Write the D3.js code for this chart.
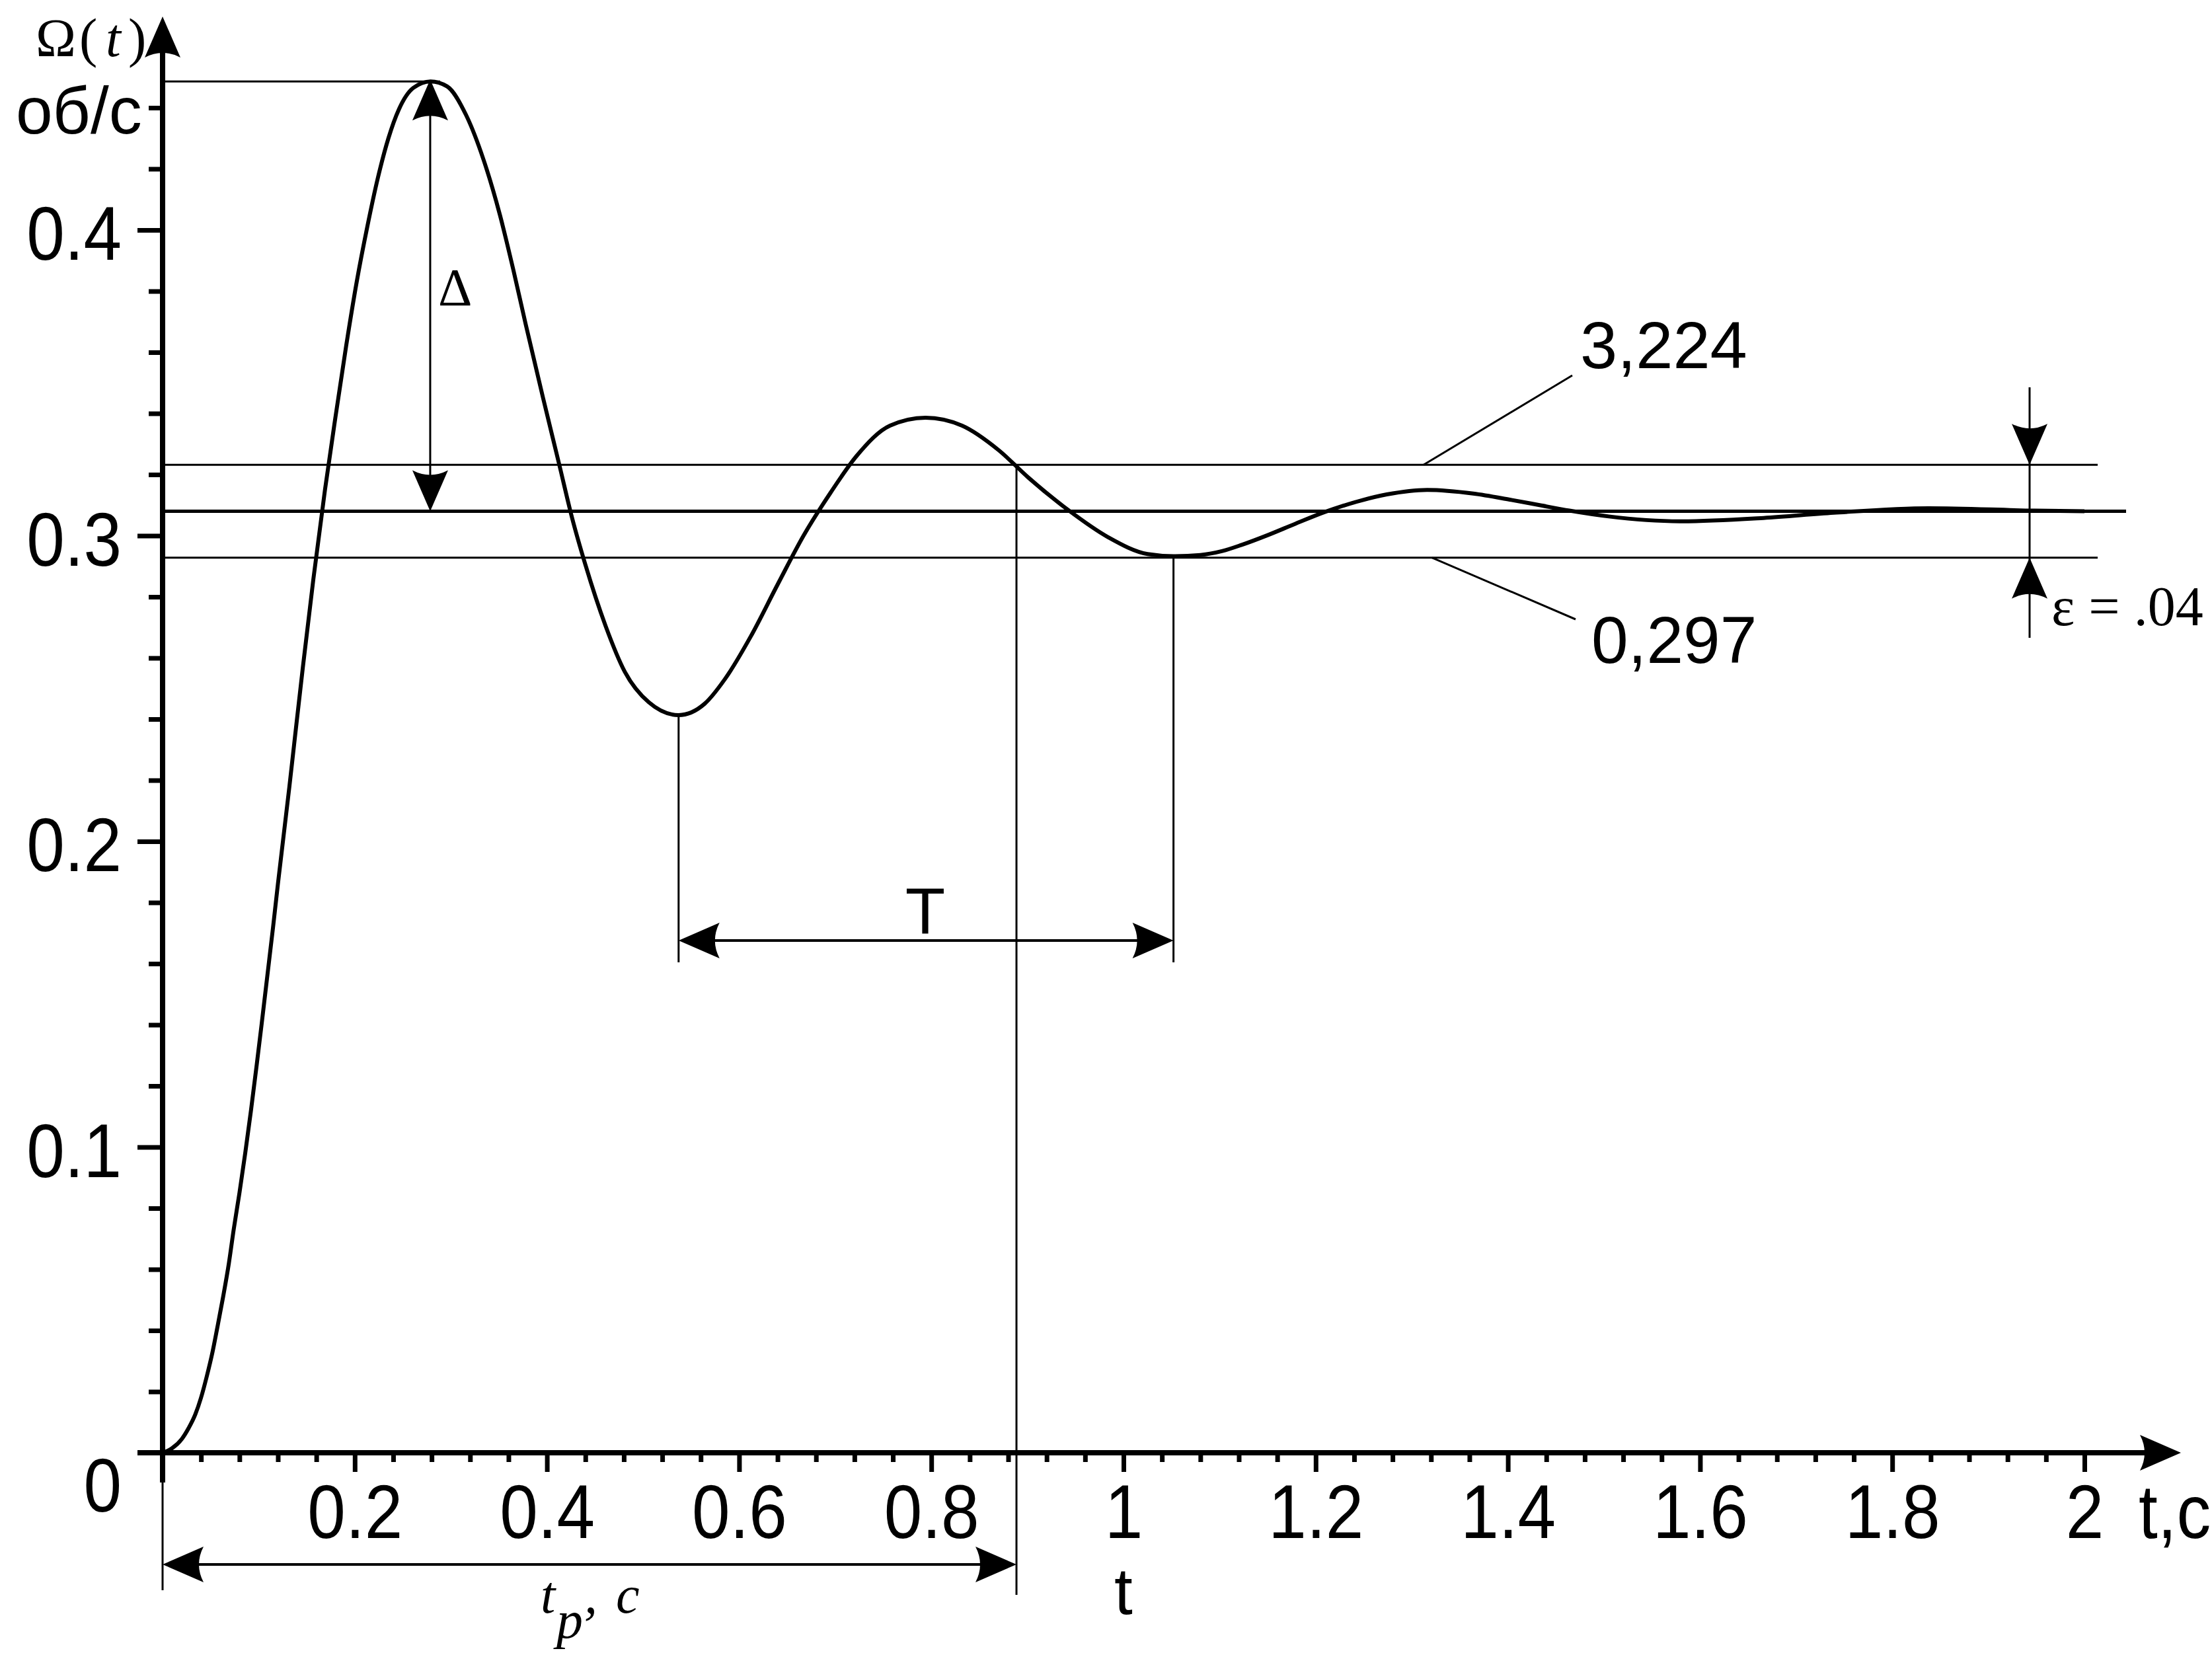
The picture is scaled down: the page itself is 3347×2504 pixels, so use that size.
<!DOCTYPE html>
<html><head><meta charset="utf-8">
<script src="https://cdn.jsdelivr.net/npm/d3@7"></script>
<style>body{margin:0;background:#fff}</style>
</head><body>
<svg id="c" width="3347" height="2504" xmlns="http://www.w3.org/2000/svg"></svg>
<script>
// ---- data ----
const timeS = [0, 0.010, 0.020, 0.027, 0.034, 0.040, 0.046, 0.052, 0.057, 0.063, 0.069, 0.074, 0.080, 0.086, 0.092, 0.098, 0.103, 0.109, 0.115, 0.120, 0.126, 0.132, 0.137, 0.146, 0.157, 0.169, 0.180, 0.191, 0.202, 0.213, 0.224, 0.235, 0.246, 0.261, 0.279, 0.296, 0.316, 0.334, 0.351, 0.365, 0.378, 0.396, 0.413, 0.426, 0.440, 0.461, 0.481, 0.506, 0.537, 0.564, 0.585, 0.612, 0.640, 0.667, 0.695, 0.722, 0.757, 0.794, 0.832, 0.870, 0.901, 0.942, 0.984, 1.025, 1.052, 1.080, 1.103, 1.123, 1.151, 1.178, 1.209, 1.247, 1.274, 1.316, 1.364, 1.402, 1.433, 1.464, 1.505, 1.581, 1.666, 1.739, 1.838, 1.948, 2.0];
const omega = [0, 0.0015, 0.0045, 0.008, 0.0125, 0.018, 0.025, 0.033, 0.041, 0.051, 0.062, 0.073, 0.085, 0.098, 0.112, 0.127, 0.140, 0.156, 0.172, 0.186, 0.202, 0.218, 0.232, 0.257, 0.286, 0.315, 0.339, 0.362, 0.383, 0.401, 0.417, 0.430, 0.4395, 0.4465, 0.4486, 0.447, 0.4375, 0.423, 0.405, 0.387, 0.369, 0.345, 0.323, 0.306, 0.2905, 0.2705, 0.2555, 0.2455, 0.2413, 0.245, 0.253, 0.267, 0.284, 0.300, 0.314, 0.326, 0.336, 0.3386, 0.336, 0.328, 0.319, 0.3085, 0.2995, 0.294, 0.2933, 0.2937, 0.2950, 0.2970, 0.3003, 0.3038, 0.3077, 0.3115, 0.3135, 0.3150, 0.3138, 0.3118, 0.3100, 0.3082, 0.3063, 0.3047, 0.3058, 0.3075, 0.3090, 0.3082, 0.3080];

const xMajorTicks = [0.2, 0.4, 0.6, 0.8, 1, 1.2, 1.4, 1.6, 1.8, 2];
const xTickLabels = ["0.2", "0.4", "0.6", "0.8", "1", "1.2", "1.4", "1.6", "1.8", "2"];
const yMajorTicks = [0.1, 0.2, 0.3, 0.4];
const yTickLabels = ["0.1", "0.2", "0.3", "0.4"];

const steadyValue = 0.308;
const bandValues = [0.3232, 0.2928];        // upper, lower
const bandLabels = ["3,224", "0,297"];
const peakPoint = [0.2785, 0.4486];
const trough1 = [0.537, 0.2413];
const trough2 = [1.052, 0.2933];
const settleTime = 0.8886;
const epsLabel = "ε = .04";

// ---- scales ----
const x = d3.scaleLinear().domain([0, 2]).range([246, 3154]);
const y = d3.scaleLinear().domain([0, 0.4]).range([2198, 348]);

const svg = d3.select("#c");
const SANS = "'Liberation Sans', Arial, Helvetica, sans-serif";
const SERIF = "'Liberation Serif', 'Times New Roman', Times, serif";

const AL = 62, AW = 27;
function arrowHead(px, py, ang) {
  svg.append("path")
    .attr("d", `M0,0 L${-AL},${-AW} Q${-AL + 14},0 ${-AL},${AW} Z`)
    .attr("transform", `translate(${px},${py}) rotate(${ang})`)
    .attr("fill", "#000");
}
function line(x1, y1, x2, y2, w) {
  svg.append("line").attr("x1", x1).attr("y1", y1).attr("x2", x2).attr("y2", y2)
    .attr("stroke", "#000").attr("stroke-width", w);
}

// ---- minor ticks ----
const xMinor = d3.range(1, 51).map(i => i * 0.04).filter(v => Math.abs(v / 0.2 - Math.round(v / 0.2)) > 1e-6);
const yMinor = d3.range(1, 23).map(i => i * 0.02).filter(v => Math.abs(v / 0.1 - Math.round(v / 0.1)) > 1e-6);

// x axis ticks
const gxMinor = svg.append("g").attr("transform", `translate(0,${y(0)})`)
  .call(d3.axisBottom(x).tickValues(xMinor).tickSize(14).tickFormat(""));
const gxMajor = svg.append("g").attr("transform", `translate(0,${y(0)})`)
  .call(d3.axisBottom(x).tickValues(xMajorTicks).tickSize(29)
    .tickFormat((d, i) => xTickLabels[i]));
[gxMinor, gxMajor].forEach(g => {
  g.select(".domain").remove();
  g.selectAll(".tick line").attr("stroke", "#000").attr("stroke-width", 7);
});
gxMajor.selectAll(".tick text")
  .attr("y", 129).attr("dy", 0)
  .attr("transform", "scale(0.9,1)")
  .style("font-family", SANS).style("font-size", "115px").attr("fill", "#000");

// y axis ticks
const gyMinor = svg.append("g").attr("transform", `translate(${x(0)},0)`)
  .call(d3.axisLeft(y).tickValues(yMinor).tickSize(21).tickFormat(""));
const gyMajor = svg.append("g").attr("transform", `translate(${x(0)},0)`)
  .call(d3.axisLeft(y).tickValues(yMajorTicks).tickSize(38)
    .tickFormat((d, i) => yTickLabels[i]));
[gyMinor, gyMajor].forEach(g => {
  g.select(".domain").remove();
  g.selectAll(".tick line").attr("stroke", "#000").attr("stroke-width", 7);
});
gyMajor.selectAll(".tick text")
  .attr("x", -62 / 0.9).attr("dy", "0.39em")
  .attr("transform", "scale(0.9,1)")
  .style("font-family", SANS).style("font-size", "115px").attr("fill", "#000");

// zero label
svg.append("text").attr("x", 184).attr("y", 2287).attr("text-anchor", "end")
  .attr("transform", "translate(18.4,0) scale(0.9,1)")
  .style("font-family", SANS).style("font-size", "115px").text("0");

// axis lines with arrows
line(208, y(0), 3245, y(0), 8);
arrowHead(3300, y(0), 0);
line(x(0), 2243, x(0), 80, 8);
arrowHead(x(0), 25, -90);
line(x(0), 2243, x(0), 2406, 3);

// horizontal reference lines
line(x(0), y(peakPoint[1]), x(peakPoint[0]) + 15, y(peakPoint[1]), 3);
line(x(0), y(bandValues[0]), 3174, y(bandValues[0]), 3);
line(x(0), y(bandValues[1]), 3174, y(bandValues[1]), 3);
line(x(0), y(steadyValue), 3217, y(steadyValue), 5);

// curve
const pts = timeS.map((t, i) => [t, omega[i]]);
svg.append("path").datum(pts)
  .attr("d", d3.line().x(d => x(d[0])).y(d => y(d[1])).curve(d3.curveMonotoneX))
  .attr("fill", "none").attr("stroke", "#000").attr("stroke-width", 6)
  .attr("stroke-linejoin", "round");

// Δ dimension
const xd = x(peakPoint[0]);
line(xd, y(peakPoint[1]) + 20, xd, y(steadyValue) - 20, 3);
arrowHead(xd, y(peakPoint[1]) - 3, -90);
arrowHead(xd, y(steadyValue), 90);
svg.append("text").attr("x", 663).attr("y", 462)
  .style("font-family", SERIF).style("font-size", "80px").text("Δ");

// T dimension
const yT = 1423, yTend = 1456;
line(x(trough1[0]), y(trough1[1]), x(trough1[0]), yTend, 3);
line(x(trough2[0]), y(trough2[1]), x(trough2[0]), yTend, 3);
line(x(trough1[0]) + 20, yT, x(trough2[0]) - 20, yT, 4);
arrowHead(x(trough1[0]), yT, 180);
arrowHead(x(trough2[0]), yT, 0);
svg.append("text").attr("x", 1400).attr("y", 1412).attr("text-anchor", "middle")
  .style("font-family", SANS).style("font-size", "99px").text("T");

// settling time
line(x(settleTime), y(bandValues[0]), x(settleTime), 2413, 3);
const yTp = 2367;
line(x(0) + 20, yTp, x(settleTime) - 20, yTp, 4);
arrowHead(x(0), yTp, 180);
arrowHead(x(settleTime), yTp, 0);
const tp = svg.append("text").attr("x", 818).attr("y", 2440)
  .style("font-family", SERIF).style("font-size", "80px").style("font-style", "italic");
tp.append("tspan").text("t");
tp.append("tspan").attr("x", 842).attr("dy", 38).text("p");
tp.append("tspan").attr("x", 884).attr("dy", -38).text(",");
tp.append("tspan").attr("x", 932).text("c");

svg.append("text").attr("x", 1700).attr("y", 2442).attr("text-anchor", "middle")
  .style("font-family", SANS).style("font-size", "100px").text("t");

// x axis title
svg.append("text").attr("x", 3236).attr("y", 2327)
  .attr("transform", "translate(323.6,0) scale(0.9,1)")
  .style("font-family", SANS).style("font-size", "115px").text("t,c");

// y axis title
const om = svg.append("text").attr("y", 85)
  .style("font-family", SERIF).style("font-size", "82px");
om.append("tspan").attr("x", 54).text("Ω");
om.append("tspan").attr("x", 120).text("(");
om.append("tspan").attr("x", 160).style("font-style", "italic").text("t");
om.append("tspan").attr("x", 194).text(")");
svg.append("text").attr("x", 24).attr("y", 202)
  .style("font-family", SANS).style("font-size", "100px").text("об/с");

// band labels with leaders
line(2379, 568, 2154, y(bandValues[0]), 3);
svg.append("text").attr("x", 2391).attr("y", 557)
  .style("font-family", SANS).style("font-size", "101px").text(bandLabels[0]);
line(2167, y(bandValues[1]), 2384, 937, 3);
svg.append("text").attr("x", 2408).attr("y", 1003)
  .style("font-family", SANS).style("font-size", "100px").text(bandLabels[1]);

// epsilon dimension
const xe = 3071;
line(xe, 586, xe, 965, 3);
arrowHead(xe, y(bandValues[0]), 90);
arrowHead(xe, y(bandValues[1]), -90);
svg.append("text").attr("x", 3104).attr("y", 946)
  .style("font-family", SERIF).style("font-size", "84px").text(epsLabel);
</script>
</body></html>
